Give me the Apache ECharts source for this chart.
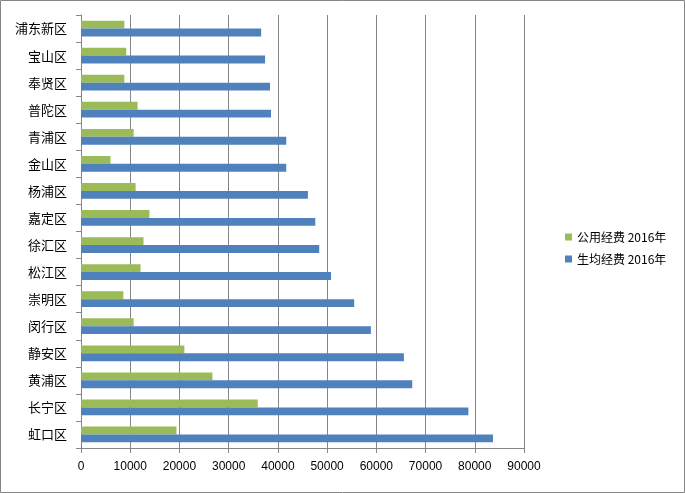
<!DOCTYPE html>
<html><head><meta charset="utf-8">
<script src="https://cdn.jsdelivr.net/npm/echarts@6/dist/echarts.min.js"></script>
<style>html,body{margin:0;padding:0;background:#fff}#c{width:685px;height:493px}</style>
</head><body><div id="c"></div>
<script>
// bottom to top
const categories = ['虹口区','长宁区','黄浦区','静安区','闵行区','崇明区','松江区','徐汇区','嘉定区','杨浦区','金山区','青浦区','普陀区','奉贤区','宝山区','浦东新区'];
const publicFunds = [19400,35900,26700,21000,10700,8600,12100,12700,13900,11100,6000,10700,11500,8800,9200,8800];
const perStudent = [83700,78700,67300,65600,58900,55500,50800,48400,47600,46100,41700,41700,38600,38400,37400,36600];
const xTicks = [0,10000,20000,30000,40000,50000,60000,70000,80000,90000];
const seriesNames = ['公用经费 2016年','生均经费 2016年'];

const chart = echarts.init(document.getElementById('c'));
chart.setOption({
  animation:false,
  graphic:[{type:'rect',shape:{x:0.5,y:0.5,width:684,height:492},style:{fill:'none',stroke:'#868686',lineWidth:1},silent:true}],
  legend:{
    orient:'vertical', left:560, top:226, itemWidth:7, itemHeight:7, itemGap:10,
    icon:'rect',
    textStyle:{fontFamily:'"Noto Sans CJK SC"',fontSize:12,color:'#000'},
    data:seriesNames
  },
  grid:{left:81,right:161,top:15,bottom:45},
  xAxis:{
    type:'value', min:xTicks[0], max:xTicks[xTicks.length-1], interval:10000,
    axisLine:{show:true,lineStyle:{color:'#868686'}},
    axisTick:{show:true,length:5,lineStyle:{color:'#868686'}},
    axisLabel:{margin:13,color:'#000',fontFamily:'"Liberation Sans"',fontSize:12,formatter:v=>String(v)},
    splitLine:{show:true,lineStyle:{color:'#868686',width:1}}
  },
  yAxis:{
    type:'category', data:categories,
    axisLine:{show:true,lineStyle:{color:'#868686'}},
    axisTick:{show:true,length:5,lineStyle:{color:'#868686'}},
    axisLabel:{margin:14,color:'#000',fontFamily:'"Noto Sans CJK SC"',fontSize:13}
  },
  series:[
    {name:seriesNames[0],type:'bar',data:publicFunds,itemStyle:{color:'#9BBB59'},barGap:'0%',barCategoryGap:'42%'},
    {name:seriesNames[1],type:'bar',data:perStudent,itemStyle:{color:'#4F81BD'},barGap:'0%',barCategoryGap:'42%'}
  ]
});
</script></body></html>
